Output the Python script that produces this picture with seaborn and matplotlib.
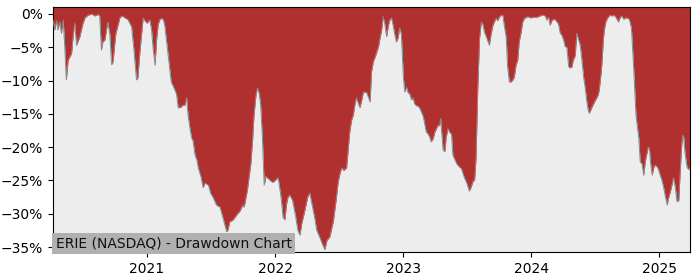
import matplotlib
matplotlib.use("Agg")
import matplotlib.pyplot as plt
import matplotlib.dates as mdates
import matplotlib.ticker as mticker
import pandas as pd
import seaborn as sns

title = "ERIE (NASDAQ) - Drawdown Chart"

dates = [
    "2020-04-08", "2020-04-13", "2020-04-18", "2020-04-22", "2020-04-27", "2020-05-02", "2020-05-07",
    "2020-05-11", "2020-05-16", "2020-05-21", "2020-05-31", "2020-06-05", "2020-06-09", "2020-06-14",
    "2020-06-19", "2020-06-23", "2020-07-02", "2020-07-08", "2020-07-16", "2020-07-28", "2020-08-05",
    "2020-08-14", "2020-08-19", "2020-08-24", "2020-08-28", "2020-09-03", "2020-09-11", "2020-09-17",
    "2020-09-22", "2020-09-26", "2020-10-04", "2020-10-16", "2020-10-24", "2020-10-30", "2020-11-07",
    "2020-11-18", "2020-11-24", "2020-12-02", "2020-12-06", "2020-12-12", "2020-12-21", "2020-12-26",
    "2021-01-01", "2021-01-09", "2021-01-14", "2021-01-18", "2021-01-24", "2021-01-28", "2021-02-02",
    "2021-02-07", "2021-02-12", "2021-02-17", "2021-02-21", "2021-03-02", "2021-03-11", "2021-03-18",
    "2021-03-26", "2021-03-31", "2021-04-08", "2021-04-13", "2021-04-19", "2021-04-24", "2021-04-28",
    "2021-05-03", "2021-05-08", "2021-05-12", "2021-05-18", "2021-05-23", "2021-05-27", "2021-06-04",
    "2021-06-10", "2021-06-15", "2021-06-25", "2021-07-02", "2021-07-09", "2021-07-18", "2021-07-28",
    "2021-08-05", "2021-08-16", "2021-08-20", "2021-08-25", "2021-09-02", "2021-09-08", "2021-09-16",
    "2021-09-22", "2021-10-01", "2021-10-05", "2021-10-14", "2021-10-24", "2021-10-29", "2021-11-02",
    "2021-11-08", "2021-11-12", "2021-11-17", "2021-11-21", "2021-11-26", "2021-12-01", "2021-12-06",
    "2021-12-10", "2021-12-18", "2021-12-26", "2022-01-10", "2022-01-18", "2022-01-24", "2022-01-29",
    "2022-02-03", "2022-02-07", "2022-02-12", "2022-02-20", "2022-03-01", "2022-03-07", "2022-03-13",
    "2022-03-18", "2022-03-27", "2022-04-04", "2022-04-10", "2022-04-16", "2022-04-24", "2022-04-30",
    "2022-05-09", "2022-05-14", "2022-05-23", "2022-05-29", "2022-06-06", "2022-06-16", "2022-06-24",
    "2022-06-30", "2022-07-05", "2022-07-10", "2022-07-16", "2022-07-24", "2022-07-29", "2022-08-02",
    "2022-08-07", "2022-08-12", "2022-08-17", "2022-08-21", "2022-08-27", "2022-08-31", "2022-09-05",
    "2022-09-10", "2022-09-19", "2022-09-24", "2022-09-29", "2022-10-03", "2022-10-08", "2022-10-17",
    "2022-10-23", "2022-10-27", "2022-11-01", "2022-11-05", "2022-11-10", "2022-11-15", "2022-11-20",
    "2022-11-24", "2022-11-29", "2022-12-04", "2022-12-08", "2022-12-13", "2022-12-18", "2022-12-22",
    "2022-12-27", "2023-01-02", "2023-01-06", "2023-01-11", "2023-01-15", "2023-01-20", "2023-01-25",
    "2023-01-29", "2023-02-03", "2023-02-08", "2023-02-12", "2023-02-17", "2023-02-23", "2023-02-28",
    "2023-03-08", "2023-03-13", "2023-03-18", "2023-03-22", "2023-03-28", "2023-04-01", "2023-04-11",
    "2023-04-15", "2023-04-18", "2023-04-25", "2023-04-30", "2023-05-04", "2023-05-09", "2023-05-14",
    "2023-05-19", "2023-05-23", "2023-05-28", "2023-06-02", "2023-06-06", "2023-06-11", "2023-06-16",
    "2023-06-21", "2023-06-25", "2023-07-01", "2023-07-09", "2023-07-14", "2023-07-19", "2023-07-24",
    "2023-07-28", "2023-08-02", "2023-08-07", "2023-08-12", "2023-08-16", "2023-08-21", "2023-08-26",
    "2023-08-30", "2023-09-04", "2023-09-09", "2023-09-14", "2023-09-18", "2023-09-23", "2023-09-28",
    "2023-10-03", "2023-10-08", "2023-10-12", "2023-10-17", "2023-10-22", "2023-10-26", "2023-10-31",
    "2023-11-05", "2023-11-10", "2023-11-14", "2023-11-19", "2023-11-24", "2023-11-28", "2023-12-03",
    "2023-12-08", "2023-12-13", "2023-12-22", "2024-01-01", "2024-01-06", "2024-01-17", "2024-01-26",
    "2024-02-05", "2024-02-10", "2024-02-15", "2024-02-20", "2024-02-24", "2024-03-01", "2024-03-09",
    "2024-03-19", "2024-03-24", "2024-03-29", "2024-04-03", "2024-04-07", "2024-04-12", "2024-04-17",
    "2024-04-21", "2024-04-26", "2024-04-30", "2024-05-06", "2024-05-10", "2024-05-15", "2024-05-20",
    "2024-05-24", "2024-05-30", "2024-06-03", "2024-06-08", "2024-06-12", "2024-06-15", "2024-06-20",
    "2024-06-26", "2024-07-02", "2024-07-10", "2024-07-13", "2024-07-19", "2024-07-22", "2024-07-25",
    "2024-07-29", "2024-08-01", "2024-08-06", "2024-08-13", "2024-08-19", "2024-08-25", "2024-08-31",
    "2024-09-06", "2024-09-11", "2024-09-16", "2024-09-21", "2024-09-25", "2024-10-01", "2024-10-07",
    "2024-10-13", "2024-10-19", "2024-10-23", "2024-10-26", "2024-10-30", "2024-11-03", "2024-11-07",
    "2024-11-12", "2024-11-17", "2024-11-22", "2024-11-27", "2024-11-30", "2024-12-03", "2024-12-07",
    "2024-12-11", "2024-12-16", "2024-12-20", "2024-12-26", "2024-12-30", "2025-01-03", "2025-01-08",
    "2025-01-13", "2025-01-18", "2025-01-23", "2025-01-26", "2025-02-01", "2025-02-05", "2025-02-10",
    "2025-02-15", "2025-02-20", "2025-02-25", "2025-03-01", "2025-03-05", "2025-03-08", "2025-03-11",
    "2025-03-15", "2025-03-21", "2025-03-27", "2025-03-29",
]

drawdown = [
    -0.9, -2.4, -1.0, -2.4, -1.2, -2.9, -0.9,
    -4.4, -9.9, -7.0, -5.9, -3.0, -1.4, -4.7,
    -4.0, -3.5, -1.5, -0.6, -0.2, 0.0, -0.3,
    -0.1, -0.2, -5.4, -4.2, -3.9, -1.2, -3.0,
    -7.6, -7.2, -3.0, -0.5, -0.3, -0.6, -0.8,
    -1.9, -5.0, -9.9, -9.6, -5.5, -0.6, -1.0,
    -1.4, -0.9, -2.4, -5.0, -7.7, -4.0, -1.5,
    -0.8, -0.65, -0.9, -1.9, -6.0, -10.2, -11.0,
    -12.0, -14.1, -14.0, -13.7, -13.7, -12.6, -15.2,
    -17.0, -18.6, -19.0, -21.2, -21.9, -23.1, -24.5,
    -26.1, -25.4, -25.7, -27.0, -27.6, -28.7, -29.0,
    -30.5, -32.7, -32.4, -31.2, -31.0, -30.6, -30.0,
    -29.7, -28.7, -29.0, -26.5, -22.5, -18.9, -15.2,
    -12.0, -11.1, -12.0, -13.7, -18.6, -25.7, -24.4,
    -24.6, -25.0, -25.3, -24.6, -27.5, -30.6, -30.9,
    -28.5, -27.5, -27.2, -28.0, -30.5, -32.5, -33.2,
    -31.5, -29.5, -27.5, -26.9, -28.5, -30.6, -32.5,
    -33.6, -34.3, -35.4, -34.0, -33.5, -31.2, -28.0,
    -25.2, -24.0, -23.1, -23.5, -23.1, -20.0, -17.7,
    -16.0, -15.2, -13.5, -12.6, -13.5, -14.1, -13.0,
    -11.7, -11.8, -12.5, -13.2, -8.7, -7.2, -5.9,
    -4.9, -3.7, -2.4, -0.4, -1.5, -3.4, -1.8,
    -0.9, -0.6, -1.8, -3.0, -4.2, -3.6, -2.1,
    -3.0, -9.6, -11.7, -11.0, -11.8, -12.0, -12.9,
    -12.6, -13.5, -13.8, -13.8, -14.1, -14.8, -15.5,
    -17.7, -18.0, -18.5, -19.2, -18.7, -17.8, -16.7,
    -16.8, -15.7, -20.4, -20.7, -18.5, -17.2, -17.8,
    -18.0, -21.2, -21.8, -22.4, -22.7, -23.0, -23.2,
    -24.0, -24.6, -25.3, -26.6, -26.0, -25.2, -24.9,
    -21.7, -11.1, -3.7, -1.2, -1.5, -2.7, -3.4,
    -4.0, -4.7, -3.0, -1.7, -1.2, -0.65, -1.0,
    -0.4, -0.2, -0.15, -1.9, -3.5, -7.9, -10.2,
    -10.2, -9.9, -9.5, -7.7, -6.9, -4.2, -2.9,
    -1.2, -0.65, -0.4, -0.6, -0.5, -0.5, -0.3,
    -0.15, -0.3, -0.9, -0.5, -1.7, -0.9, -0.8,
    -1.5, -2.9, -3.2, -4.0, -4.9, -5.0, -7.9,
    -8.1, -8.0, -7.0, -6.2, -2.9, -3.8, -4.7,
    -6.5, -9.6, -11.0, -13.2, -14.5, -14.9, -14.3,
    -13.6, -13.0, -12.2, -11.5, -8.7, -6.5, -3.7,
    -2.0, -1.2, -0.6, -0.15, -0.3, -0.2, -0.6,
    -1.2, -0.5, -0.3, -0.8, -0.6, -0.6, -0.8,
    -2.1, -7.7, -12.0, -15.2, -17.0, -18.6, -22.2,
    -22.5, -24.2, -22.0, -20.7, -20.0, -20.1, -22.5,
    -24.2, -23.0, -22.7, -23.0, -23.5, -24.2, -25.0,
    -26.1, -27.5, -28.7, -27.8, -26.7, -25.8, -24.6,
    -26.0, -28.2, -28.0, -23.7, -20.0, -18.2, -18.5,
    -21.0, -23.1, -23.4, -23.0,
]

yticks = [0, -5, -10, -15, -20, -25, -30, -35]

df = pd.DataFrame({"date": pd.to_datetime(dates), "dd": drawdown})

fig = plt.figure(figsize=(7, 2.8), dpi=100)
ax = fig.add_axes([0.0757, 0.1, 0.91, 0.875])
ax.set_facecolor("#EDEDED")

ymin, ymax = -35.75, 1.05
ax.fill_between(df["date"], df["dd"], ymax + 5, color="#B03030", linewidth=0, zorder=2)
sns.lineplot(data=df, x="date", y="dd", ax=ax, color="#8A8A8A", linewidth=0.7, zorder=3)

ax.set_xlim(df["date"].iloc[0], df["date"].iloc[-1])
ax.set_ylim(ymin, ymax)
ax.set_yticks(yticks)
ax.yaxis.set_major_formatter(mticker.FuncFormatter(lambda v, p: f"{int(v)}%".replace("-", "\u2212")))
ax.xaxis.set_major_locator(mdates.YearLocator())
ax.xaxis.set_major_formatter(mdates.DateFormatter("%Y"))
ax.set_xlabel("")
ax.set_ylabel("")
ax.tick_params(labelsize=10)

ax.text(0.004, 0.006, title, transform=ax.transAxes, fontsize=10, color="#111111",
        ha="left", va="bottom", zorder=5,
        bbox=dict(facecolor="#B0B0B0", edgecolor="none", pad=2.5))

fig.savefig("out.png", dpi=100)
